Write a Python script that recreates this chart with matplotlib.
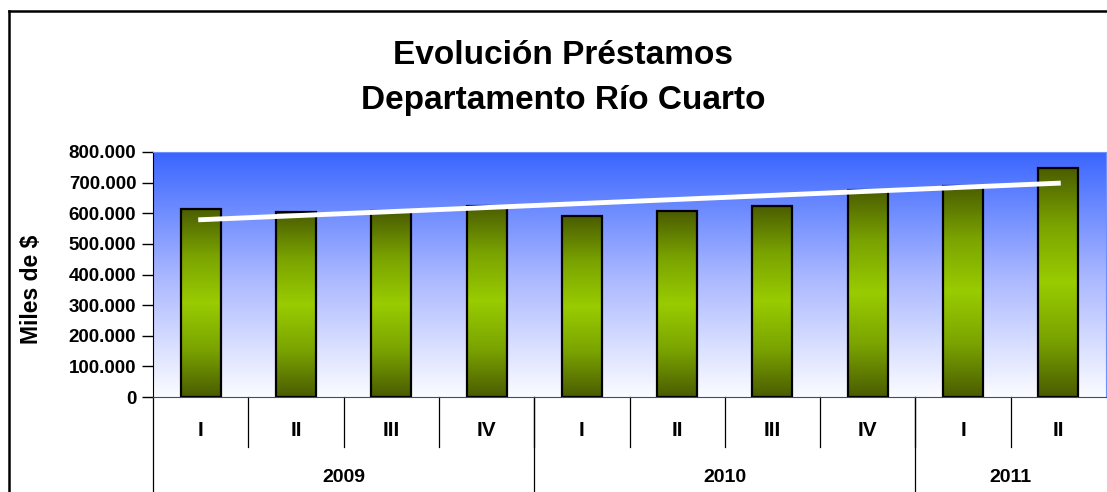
import numpy as np
import matplotlib.pyplot as plt
from matplotlib.colors import LinearSegmentedColormap
from matplotlib.transforms import blended_transform_factory

# --- datos ---
trimestres = ['I', 'II', 'III', 'IV', 'I', 'II', 'III', 'IV', 'I', 'II']
anios = ['2009', '2010', '2011']
trim_por_anio = [4, 4, 2]
prestamos = [614000, 603000, 606000, 625000, 590000, 607000, 625000, 677000, 690000, 748000]
yticks = [0, 100000, 200000, 300000, 400000, 500000, 600000, 700000, 800000]

fuente = ['Liberation Sans', 'DejaVu Sans']
plt.rcParams['font.family'] = fuente
plt.rcParams['font.weight'] = 'bold'

fig = plt.figure(figsize=(11.07, 4.92), dpi=100)
ax = fig.add_axes([153 / 1107, 95 / 492, 953 / 1107, 245 / 492])

# borde del grafico (izquierda y arriba)
fig.add_artist(plt.Line2D([9 / 1107, 9 / 1107], [0, 1 - 11 / 492], color='black', lw=1.8,
                          transform=fig.transFigure))
fig.add_artist(plt.Line2D([9 / 1107, 1], [1 - 11 / 492, 1 - 11 / 492], color='black', lw=1.8,
                          transform=fig.transFigure))

# fondo degradado azul -> blanco
fondo = LinearSegmentedColormap.from_list('fondo', ['#3a66ff', '#a8b6ff', '#fbfcff'])
grad = np.linspace(0, 1, 256).reshape(-1, 1)
ax.imshow(grad, cmap=fondo, aspect='auto', extent=(0, 1, 0, 1), transform=ax.transAxes,
          zorder=0)

x = np.arange(len(prestamos))
barras = ax.bar(x, prestamos, width=0.42, facecolor='none', edgecolor='black', lw=1.6, zorder=3)

verde = LinearSegmentedColormap.from_list('verde', ['#4a5c00', '#7aa300', '#99cc00', '#7aa300', '#4a5c00'])
grad_b = np.linspace(0, 1, 256).reshape(-1, 1)
for b in barras:
    x0, w, h = b.get_x(), b.get_width(), b.get_height()
    ax.imshow(grad_b, cmap=verde, aspect='auto', extent=(x0, x0 + w, 0, h), zorder=2)

# linea de tendencia
coef = np.polyfit(x, prestamos, 1)
ax.plot(x, np.polyval(coef, x), color='white', lw=3.5, zorder=4)

ax.set_xlim(-0.5, len(prestamos) - 0.5)
ax.set_ylim(0, 800000)
ax.set_yticks(yticks)
ax.set_yticklabels([f'{v:,}'.replace(',', '.') for v in yticks], fontsize=13.5, fontweight='bold')
ax.tick_params(axis='y', direction='out', length=8, width=1, pad=4)
ax.set_xticks([])

for s in ['top', 'right']:
    ax.spines[s].set_color('#6f8fff')
ax.spines['left'].set_color('black')
ax.spines['bottom'].set_color('#3a4a80')

fig.text(32 / 1107, 1 - 289 / 492, 'Miles de $', rotation=90, ha='center', va='center',
         fontsize=16.5, fontweight='bold')

# eje de categorias en dos niveles
tr = blended_transform_factory(ax.transData, ax.transAxes)
for i, t in enumerate(trimestres):
    ax.text(i, -0.135, t, transform=tr, ha='center', va='center', fontsize=15, fontweight='bold')
for i in range(1, len(trimestres)):
    ax.plot([i - 0.5, i - 0.5], [0, -0.204], transform=tr, color='black', lw=0.9, clip_on=False)

inicio = 0
bordes = [-0.5]
for a, n in zip(anios, trim_por_anio):
    centro = inicio + (n - 1) / 2
    ax.text(centro, -0.327, a, transform=tr, ha='center', va='center', fontsize=14,
            fontweight='bold')
    inicio += n
    bordes.append(inicio - 0.5)
for bx in bordes[:-1]:
    ax.plot([bx, bx], [0, -0.4], transform=tr, color='black', lw=0.9, clip_on=False)

fig.text(563 / 1107, 1 - 55 / 492, 'Evolución Préstamos', ha='center', va='center',
         fontsize=24, fontweight='bold')
fig.text(563 / 1107, 1 - 101 / 492, 'Departamento Río Cuarto', ha='center', va='center',
         fontsize=24, fontweight='bold')

fig.savefig('out.png', dpi=100)
